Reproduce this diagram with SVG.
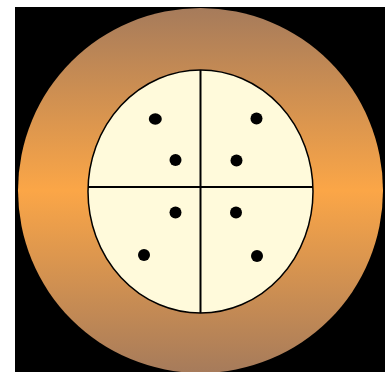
<svg xmlns="http://www.w3.org/2000/svg" width="390" height="372" viewBox="0 0 390 372">
<defs>
<linearGradient id="ring" x1="0" y1="8" x2="0" y2="373" gradientUnits="userSpaceOnUse">
<stop offset="0" stop-color="#a67b5b"/>
<stop offset="0.5" stop-color="#fba647"/>
<stop offset="1" stop-color="#a67b5b"/>
</linearGradient>
<style>
.dot{fill:#000}
.div{stroke:#000;stroke-width:2;fill:none}
</style>
</defs>
<rect width="390" height="372" fill="#fff"/>
<rect x="15" y="7" width="370" height="365" fill="#000"/>
<g id="outer"><circle cx="200.5" cy="190.5" r="182.5" fill="url(#ring)"/></g>
<g id="inner">
<ellipse cx="200.5" cy="191.5" rx="112.5" ry="121.5" fill="#fffadb" stroke="#000" stroke-width="1.5"/>
</g>
<g id="connectors">
<line class="div" x1="200.5" y1="70" x2="200.5" y2="313"/>
<line class="div" x1="88" y1="187" x2="313" y2="187"/>
</g>
<g id="dots">
<ellipse class="dot" cx="155.3" cy="119" rx="6.5" ry="5.8"/>
<circle class="dot" cx="175.5" cy="160" r="6"/>
<circle class="dot" cx="256.5" cy="118.5" r="6"/>
<circle class="dot" cx="236.5" cy="160.5" r="6"/>
<circle class="dot" cx="175.5" cy="212.5" r="6"/>
<circle class="dot" cx="236" cy="212.5" r="6"/>
<circle class="dot" cx="144" cy="255" r="6"/>
<circle class="dot" cx="257" cy="256" r="6"/>
</g>
</svg>
